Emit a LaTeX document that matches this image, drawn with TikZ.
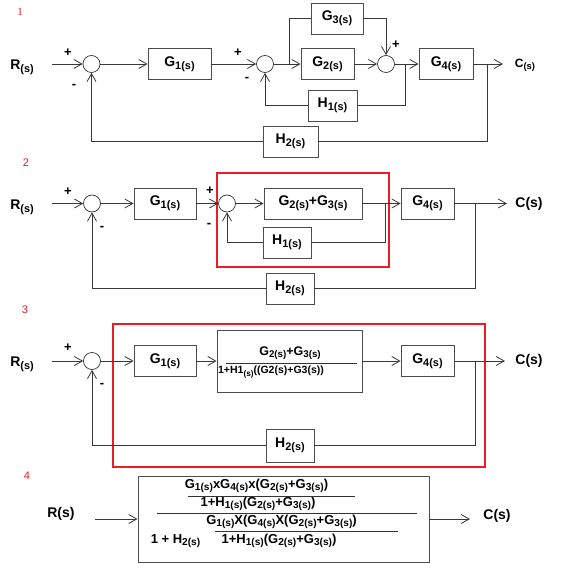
\documentclass[tikz,border=0pt]{standalone}
\usepackage{fontspec}
\setmainfont{Liberation Sans}
\newfontfamily\serifnum{Liberation Serif}
\usetikzlibrary{arrows.meta}
\definecolor{redc}{RGB}{234,28,36}
\newcommand{\sbx}[1]{\raisebox{-0.2em}{\scalebox{0.78}{#1}}}
\newcommand{\lblfont}{\fontsize{14}{14}\selectfont\bfseries}
\begin{document}
\begin{tikzpicture}[x=1pt,y=-1pt,
  blk/.style={draw=black!70, line width=0.9pt, inner sep=0pt, font=\lblfont},
  sumc/.style={circle, draw=black!80, line width=0.7pt, minimum size=17pt, inner sep=0pt},
  wire/.style={draw=black!78, line width=0.8pt},
  arr/.style={wire, -{Straight Barb[length=8pt,width=9pt]}},
  lbl/.style={font=\lblfont, inner sep=0pt},
  sgn/.style={font=\fontsize{13}{13}\selectfont\bfseries, inner sep=0pt},
  redbox/.style={draw=redc, line width=2.6pt},
  numl/.style={text=redc, font=\fontsize{11}{11}\selectfont, inner sep=0pt},
  frl/.style={draw=black!80, line width=0.8pt}
]
\useasboundingbox (0,0) rectangle (561,577);

% ---------------- Diagram 1 ----------------
\node[numl, font=\fontsize{11}{11}\selectfont\serifnum] (n1) at (20,12) {1};
\node[lbl] (r1) at (22,67) {R\sbx{(s)}};
\node[sumc] (s11) at (91.5,64) {};
\node[blk, minimum width=63pt, minimum height=31pt] (g1a) at (179.5,64) {G\sbx{1(s)}};
\node[sumc] (s12) at (265,64) {};
\node[blk, minimum width=53pt, minimum height=31pt] (g2a) at (327.5,64) {G\sbx{2(s)}};
\node[blk, minimum width=52pt, minimum height=31pt] (g3a) at (337,18.5) {G\sbx{3(s)}};
\node[sumc] (s13) at (386,64) {};
\node[blk, minimum width=54pt, minimum height=31pt] (g4a) at (446,64) {G\sbx{4(s)}};
\node[blk, minimum width=49pt, minimum height=31pt] (h1a) at (332.5,105.5) {H\sbx{1(s)}};
\node[blk, minimum width=55pt, minimum height=31pt] (h2a) at (290.5,141.5) {H\sbx{2(s)}};
\node[lbl, font=\fontsize{12}{12}\selectfont\bfseries] (c1) at (525,65) {C\sbx{(s)}};
\node[sgn] (p11) at (68,53) {+};
\node[sgn] (m11) at (74,86) {-};
\node[sgn] (p12) at (238,53) {+};
\node[sgn] (m12) at (247,79) {-};
\node[sgn] (p13) at (396,45) {+};
\coordinate (in1) at (52,64);
\coordinate (b11) at (289,64);
\coordinate (b12) at (405,64);
\coordinate (b13) at (487.7,64);
\coordinate (o1) at (503,64);
\draw[arr] (in1) -- (s11.west);
\draw[arr] (s11.east) -- (g1a.west);
\draw[arr] (g1a.east) -- (s12.west);
\draw[arr] (s12.east) -- (g2a.west);
\draw[wire] (b11) |- (g3a.west);
\draw[arr] (g3a.east) -| (s13.north);
\draw[arr] (g2a.east) -- (s13.west);
\draw[arr] (s13.east) -- (g4a.west);
\draw[wire] (b12) |- (h1a.east);
\draw[arr] (h1a.west) -| (s12.south);
\draw[arr] (g4a.east) -- (o1);
\draw[wire] (b13) |- (h2a.east);
\draw[arr] (h2a.west) -| (s11.south);

% ---------------- Diagram 2 ----------------
\node[numl] (n2) at (26,163) {2};
\node[lbl] (r2) at (22,207) {R\sbx{(s)}};
\node[sumc] (s21) at (92,203.5) {};
\node[blk, minimum width=62pt, minimum height=31pt] (g1b) at (165,203.5) {G\sbx{1(s)}};
\node[sumc] (s22) at (227,203.5) {};
\node[blk, minimum width=98pt, minimum height=31pt] (g23b) at (313,203.5) {G\sbx{2(s)}+G\sbx{3(s)}};
\node[blk, minimum width=48pt, minimum height=31pt] (h1b) at (287,242.5) {H\sbx{1(s)}};
\node[blk, minimum width=53pt, minimum height=31pt] (g4b) at (427.5,203.5) {G\sbx{4(s)}};
\node[blk, minimum width=48pt, minimum height=31pt] (h2b) at (290,288.5) {H\sbx{2(s)}};
\node[lbl] (c2) at (529,204) {C(s)};
\draw[redbox] (217,173) rectangle (389,267);
\node[sgn] (p21) at (68,192) {+};
\node[sgn] (m21) at (102,228) {-};
\node[sgn] (p22) at (210,191) {+};
\node[sgn] (m22) at (209,225) {-};
\coordinate (in2) at (52,203.5);
\coordinate (b21) at (385,203.5);
\coordinate (b22) at (475,203.5);
\coordinate (o2) at (507,203.5);
\draw[arr] (in2) -- (s21.west);
\draw[arr] (s21.east) -- (g1b.west);
\draw[arr] (g1b.east) -- (s22.west);
\draw[arr] (s22.east) -- (g23b.west);
\draw[arr] (g23b.east) -- (g4b.west);
\draw[wire] (b21) |- (h1b.east);
\draw[arr] (h1b.west) -| (s22.south);
\draw[arr] (g4b.east) -- (o2);
\draw[wire] (b22) |- (h2b.east);
\draw[arr] (h2b.west) -| (s21.south);

% ---------------- Diagram 3 ----------------
\node[numl] (n3) at (25,310) {3};
\node[lbl] (r3) at (22,364) {R\sbx{(s)}};
\node[sumc] (s31) at (92,361) {};
\node[blk, minimum width=62pt, minimum height=31pt] (g1c) at (165,361) {G\sbx{1(s)}};
\node[blk, minimum width=145pt, minimum height=62pt] (bigc) at (289.5,361) {};
\node[lbl, font=\fontsize{12.5}{12.5}\selectfont\bfseries] (numc) at (290,353) {G\sbx{2(s)}+G\sbx{3(s)}};
\node[lbl, font=\fontsize{10.5}{10.5}\selectfont\bfseries] (denc) at (271,372) {1+H1\sbx{(s)}((G2(s)+G3(s))};
\draw[frl] (226,363) -- (357,363);
\node[blk, minimum width=53pt, minimum height=31pt] (g4c) at (427.5,361) {G\sbx{4(s)}};
\node[blk, minimum width=48pt, minimum height=33pt] (h2c) at (290,445.5) {H\sbx{2(s)}};
\node[lbl] (c3) at (529,361) {C(s)};
\draw[redbox] (113,324) rectangle (485,467);
\node[sgn] (p31) at (68,348) {+};
\node[sgn] (m31) at (102,385) {-};
\coordinate (in3) at (52,361);
\coordinate (b31) at (475,361);
\coordinate (o3) at (505,361);
\draw[arr] (in3) -- (s31.west);
\draw[arr] (s31.east) -- (g1c.west);
\draw[arr] (g1c.east) -- (bigc.west);
\draw[arr] (bigc.east) -- (g4c.west);
\draw[arr] (g4c.east) -- (o3);
\draw[wire] (b31) |- (h2c.east);
\draw[arr] (h2c.west) -| (s31.south);

% ---------------- Diagram 4 ----------------
\node[numl] (n4) at (27,476) {4};
\node[lbl] (r4) at (61,514) {R(s)};
\node[blk, minimum width=291pt, minimum height=86pt] (b4) at (283.5,519) {};
\node[lbl] (c4) at (497,516) {C(s)};
\coordinate (in4) at (95,519);
\coordinate (o4) at (470,519);
\draw[arr] (in4) -- (b4.west);
\draw[arr] (b4.east) -- (o4);
\begin{scope}[every node/.style={lbl, font=\fontsize{13}{13}\selectfont\bfseries}]
\node (f1) at (256.5,486) {G\sbx{1(s)}xG\sbx{4(s)}x(G\sbx{2(s)}+G\sbx{3(s)})};
\node (f2) at (258,504) {1+H\sbx{1(s)}(G\sbx{2(s)}+G\sbx{3(s)})};
\node (f3) at (281.5,522) {G\sbx{1(s)}X(G\sbx{4(s)}X(G\sbx{2(s)}+G\sbx{3(s)})};
\node (f4) at (175.5,541) {1 + H\sbx{2(s)}};
\node (f5) at (279,541) {1+H\sbx{1(s)}(G\sbx{2(s)}+G\sbx{3(s)})};
\end{scope}
\draw[frl] (188,496) -- (355,496);
\draw[frl] (157,513) -- (417,513);
\draw[frl] (215,531) -- (398,531);
\end{tikzpicture}
\end{document}
